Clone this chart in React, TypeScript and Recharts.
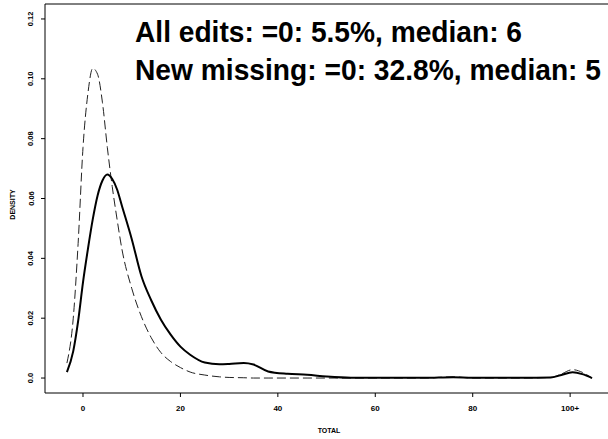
import { LineChart, Line, XAxis, YAxis, ReferenceLine } from "recharts";

// x positions of the density estimates (TOTAL)
const totals = [
  -3.3, -2, -1, 0, 1, 2, 3, 4, 5, 6, 7, 8, 10, 12, 14, 16, 18, 20, 22, 25, 28,
  30, 33, 35, 38, 42, 46, 50, 55, 60, 70, 76, 80, 90, 96, 98, 100.5, 102.5,
  104.5,
];

// solid line: All edits
const allEdits = [
  0.002, 0.009, 0.019, 0.032, 0.043, 0.053, 0.061, 0.066, 0.068, 0.0665, 0.063,
  0.0575, 0.0465, 0.034, 0.026, 0.0195, 0.0145, 0.0105, 0.0078, 0.0052, 0.0046,
  0.0047, 0.005, 0.0045, 0.0022, 0.0014, 0.0011, 0.0005, 0.0001, 0.0001,
  0.0001, 0.0003, 0.0001, 0.0001, 0.0002, 0.0009, 0.0019, 0.0013, 0,
];

// dashed line: New missing
const newMissing = [
  0.005, 0.02, 0.045, 0.077, 0.095, 0.1035, 0.1015, 0.092, 0.077, 0.064, 0.053,
  0.043, 0.03, 0.0205, 0.0135, 0.0085, 0.0055, 0.0035, 0.002, 0.001, 0.0004,
  0.0002, 0.0001, 0, 0, 0, 0, 0, 0, 0, 0, 0.0004, 0, 0, 0.0002, 0.0012, 0.0028,
  0.0019, 0,
];

const xTicks = [0, 20, 40, 60, 80, 100];
const yTicks = [0, 0.02, 0.04, 0.06, 0.08, 0.1, 0.12];

const annotations = [
  "All edits: =0: 5.5%, median: 6",
  "New missing: =0: 32.8%, median: 5",
];
const annotationWidths = [387, 466];

const data = totals.map((t, i) => ({
  total: t,
  all: allEdits[i],
  missing: newMissing[i],
}));

const FONT = "'Liberation Sans', Arial, Helvetica, sans-serif";
const SQUEEZE = 0.94; // the reference text is a slightly condensed Helvetica

const fmtX = (v: number) => (v === 100 ? "100+" : String(v));
const fmtY = (v: number) => (v === 0 ? "0.0" : v.toFixed(2));

const YTick = (props: any) => {
  const { x, y, payload } = props;
  const cx = x - 8;
  return (
    <text
      x={cx}
      y={y}
      transform={`rotate(-90 ${cx} ${y})`}
      textAnchor="middle"
      dominantBaseline="central"
      fontSize={7.5}
      fontWeight="bold"
      fontFamily={FONT}
      fill="#000"
    >
      {fmtY(payload.value)}
    </text>
  );
};

const YTitle = (props: any) => {
  const { viewBox } = props;
  const cx = viewBox.x + 12;
  const cy = viewBox.y + viewBox.height / 2 + 6;
  return (
    <text
      x={cx}
      y={cy}
      transform={`rotate(-90 ${cx} ${cy})`}
      textAnchor="middle"
      dominantBaseline="central"
      fontSize={7}
      fontWeight="bold"
      fontFamily={FONT}
      fill="#000"
    >
      DENSITY
    </text>
  );
};

export default function App() {
  return (
    <div
      style={{
        position: "absolute",
        left: 0,
        top: 0,
        width: 608,
        height: 439,
        overflow: "hidden",
        background: "#fff",
      }}
    >
      <LineChart
        width={613}
        height={439}
        data={data}
        margin={{ top: 4, right: 0, left: 0, bottom: 0 }}
      >
        <XAxis
          dataKey="total"
          type="number"
          domain={[-7.8, 108.8]}
          ticks={xTicks}
          tickFormatter={fmtX}
          height={46}
          tickSize={4}
          tickMargin={8}
          stroke="#000"
          tick={{ fontSize: 8, fontWeight: "bold", fontFamily: FONT, fill: "#000" }}
          allowDataOverflow
          label={{
            value: "TOTAL",
            position: "insideBottom",
            offset: 6,
            style: { fontSize: 7, fontWeight: "bold", fontFamily: FONT, fill: "#000" },
          }}
        />
        <YAxis
          type="number"
          domain={[-0.005, 0.125]}
          ticks={yTicks}
          width={45}
          tickSize={4}
          stroke="#000"
          tick={<YTick />}
          allowDataOverflow
          label={{ content: <YTitle /> }}
        />
        <ReferenceLine y={0.125} stroke="#000" strokeWidth={1} />
        <Line
          type="monotone"
          dataKey="missing"
          stroke="#222"
          strokeWidth={1}
          strokeDasharray="9 4"
          dot={false}
          isAnimationActive={false}
        />
        <Line
          type="monotone"
          dataKey="all"
          stroke="#000"
          strokeWidth={2}
          dot={false}
          isAnimationActive={false}
        />
      </LineChart>
      <svg
        width={608}
        height={439}
        style={{ position: "absolute", left: 0, top: 0, pointerEvents: "none" }}
      >
        {annotations.map((t, i) => (
          <text
            key={t}
            x={0}
            y={0}
            transform={`translate(135 ${42 + i * 38}) scale(${SQUEEZE} 1)`}
            fontSize={30}
            fontWeight="bold"
            fontFamily={FONT}
            fill="#000"
            textLength={annotationWidths[i] / SQUEEZE}
            lengthAdjust="spacingAndGlyphs"
          >
            {t}
          </text>
        ))}
      </svg>
    </div>
  );
}
